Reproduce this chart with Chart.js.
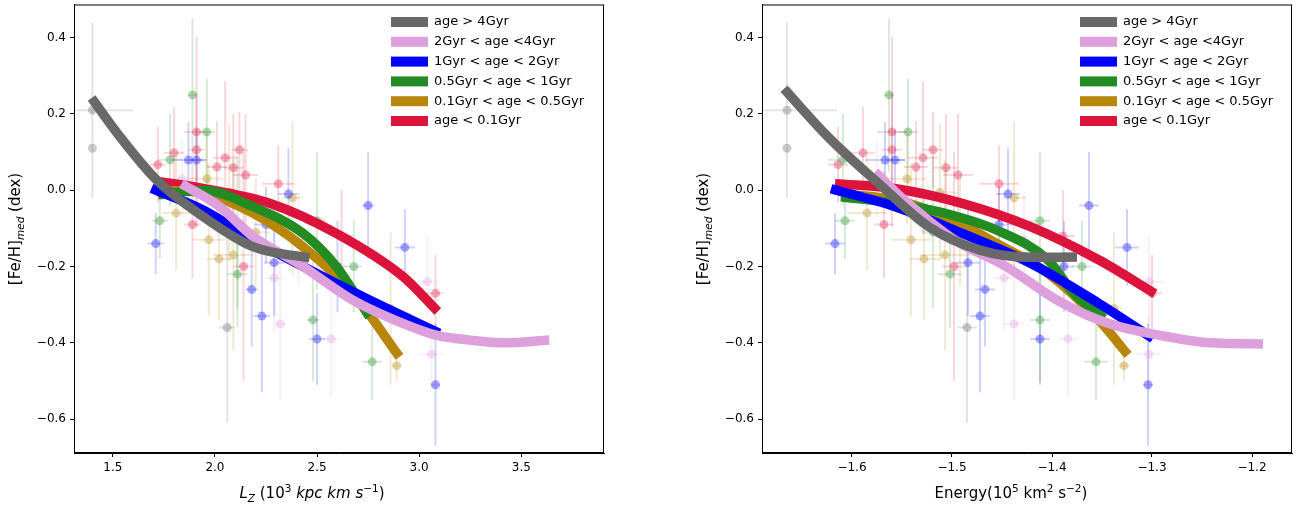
<!DOCTYPE html>
<html><head><meta charset="utf-8">
<script src="https://cdn.jsdelivr.net/npm/chart.js@4"></script>
<style>
html,body{margin:0;padding:0;background:#fff;}
#wrap{position:relative;width:1301px;height:508px;}
.pan{position:absolute;top:0;height:508px;}
</style></head>
<body>
<div id="wrap">
  <div class="pan" style="left:0;width:650px"><canvas id="cLz"></canvas></div>
  <div class="pan" style="left:650px;width:651px"><canvas id="cE"></canvas></div>
</div>
<script>
// ---- legend / groups
const groupLabels = ['age > 4Gyr','2Gyr < age <4Gyr','1Gyr < age < 2Gyr','0.5Gyr < age < 1Gyr','0.1Gyr < age < 0.5Gyr','age < 0.1Gyr'];
const groupColors = ['#696969','#dda0dd','#0000ff','#228b22','#b8860b','#dc143c'];

// ---- tick labels
const fehTicks = [-0.6,-0.4,-0.2,0.0,0.2,0.4];
const lzTicks = [1.5,2.0,2.5,3.0,3.5];
const eTicks = [-1.6,-1.5,-1.4,-1.3,-1.2];

// ---- fitted curves, left panel (Lz)
const lzCurveGrayX = [1.396,1.534,1.714,1.942,2.186,2.463];
const lzCurveGrayY = [0.242,0.141,0.027,-0.069,-0.148,-0.178];
const lzCurvePinkX = [1.836,2.023,2.186,2.431,2.675,2.92,3.083,3.246,3.417,3.637];
const lzCurvePinkY = [0.017,-0.043,-0.121,-0.2,-0.288,-0.349,-0.38,-0.393,-0.40,-0.393];
const lzCurveBlueX = [1.689,1.942,2.186,2.431,2.757,3.099];
const lzCurveBlueY = [0.005,-0.052,-0.13,-0.2,-0.288,-0.375];
const lzCurveGreenX = [1.722,1.94,2.186,2.431,2.594,2.757];
const lzCurveGreenY = [-0.012,0.0,-0.043,-0.113,-0.2,-0.332];
const lzCurveGoldX = [1.746,1.942,2.186,2.431,2.675,2.904];
const lzCurveGoldY = [0.0,-0.008,-0.06,-0.148,-0.27,-0.437];
const lzCurveRedX = [1.722,1.942,2.268,2.594,2.92,3.091];
const lzCurveRedY = [0.023,0.005,-0.034,-0.113,-0.226,-0.318];

// ---- fitted curves, right panel (Energy)
const eCurveGrayX = [-1.668,-1.624,-1.573,-1.523,-1.472,-1.421,-1.375];
const eCurveGrayY = [0.266,0.14,0.017,-0.096,-0.157,-0.176,-0.175];
const eCurvePinkX = [-1.577,-1.5475,-1.497,-1.446,-1.395,-1.344,-1.293,-1.242,-1.189];
const eCurvePinkY = [0.048,-0.026,-0.131,-0.20,-0.288,-0.349,-0.38,-0.40,-0.403];
const eCurveBlueX = [-1.621,-1.556,-1.489,-1.421,-1.353,-1.299];
const eCurveBlueY = [0.004,-0.044,-0.114,-0.192,-0.297,-0.389];
const eCurveGreenX = [-1.611,-1.556,-1.506,-1.455,-1.404,-1.378,-1.348];
const eCurveGreenY = [-0.017,-0.035,-0.061,-0.105,-0.183,-0.271,-0.336];
const eCurveGoldX = [-1.611,-1.556,-1.506,-1.455,-1.404,-1.353,-1.324];
const eCurveGoldY = [-0.009,-0.026,-0.07,-0.14,-0.218,-0.341,-0.432];
const eCurveRedX = [-1.617,-1.556,-1.489,-1.421,-1.353,-1.297];
const eCurveRedY = [0.017,0.004,-0.035,-0.096,-0.183,-0.271];

// ---- star medians: [Fe/H], Lz, Energy and errors
const fehGray = [0.21,0.11,-0.36];
const lzGray = [1.40,1.40,2.06];
const eGray = [-1.665,-1.665,-1.485];
const yerrGray = [0.23,0.0,0.25];
const xerrLzGray = [0.2,0.0,0.04];
const xerrEGray = [0.05,0.0,0.01];

const fehPink = [0.03,-0.24,-0.43,-0.39,-0.35,-0.13,-0.23];
const lzPink = [1.84,3.04,3.06,2.57,2.32,2.41,2.29];
const ePink = [-1.575,-1.303,-1.303,-1.384,-1.438,-1.428,-1.448];
const yerrPink = [0.1,0.12,0.1,0.15,0.2,0.12,0.14];
const xerrLzPink = [0.05,0.05,0.06,0.04,0.03,0.05,0.04];
const xerrEPink = [0.01,0.015,0.012,0.01,0.01,0.012,0.01];

const fehBlue = [0.079,0.079,-0.14,-0.01,-0.04,-0.15,-0.20,-0.26,-0.33,-0.39,-0.51,-0.19,-0.09];
const lzBlue = [1.87,1.91,1.71,2.36,2.75,2.93,2.60,2.18,2.23,2.50,3.08,2.29,2.25];
const eBlue = [-1.567,-1.557,-1.617,-1.444,-1.363,-1.325,-1.388,-1.467,-1.472,-1.412,-1.304,-1.484,-1.453];
const yerrBlue = [0.1,0.08,0.08,0.12,0.14,0.1,0.12,0.15,0.2,0.12,0.16,0.14,0.1];
const xerrLzBlue = [0.08,0.05,0.04,0.05,0.03,0.05,0.04,0.03,0.04,0.04,0.02,0.05,0.06];
const xerrEBlue = [0.02,0.01,0.01,0.012,0.01,0.012,0.01,0.01,0.01,0.01,0.005,0.012,0.015];

const fehGreen = [0.25,0.153,-0.08,-0.08,-0.2,-0.34,-0.45,-0.22,-0.11,0.08];
const lzGreen = [1.89,1.96,1.73,2.50,2.68,2.48,2.77,2.11,2.11,1.78];
const eGreen = [-1.563,-1.544,-1.607,-1.412,-1.37,-1.412,-1.356,-1.502,-1.519,-1.609];
const yerrGreen = [0.2,0.14,0.1,0.18,0.12,0.16,0.1,0.14,0.2,0.12];
const xerrLzGreen = [0.02,0.04,0.04,0.04,0.04,0.03,0.05,0.05,0.04,0.06];
const xerrEGreen = [0.005,0.01,0.01,0.01,0.01,0.01,0.012,0.012,0.01,0.015];

const fehGold = [0.03,-0.005,-0.02,-0.06,-0.13,-0.18,-0.17,-0.31,-0.46,-0.11];
const lzGold = [1.96,2.07,2.38,1.81,1.97,2.02,2.09,2.86,2.89,2.20];
const eGold = [-1.545,-1.512,-1.438,-1.585,-1.541,-1.528,-1.507,-1.338,-1.328,-1.492];
const yerrGold = [0.12,0.18,0.2,0.15,0.2,0.16,0.25,0.2,0.04,0.14];
const xerrLzGold = [0.08,0.06,0.05,0.07,0.08,0.06,0.1,0.03,0.02,0.07];
const xerrEGold = [0.02,0.015,0.012,0.02,0.02,0.015,0.025,0.008,0.005,0.018];

const fehRed = [0.067,0.098,0.153,0.106,0.061,0.085,0.106,0.059,0.04,0.017,-0.12,-0.27,-0.09,-0.2];
const lzRed = [1.72,1.80,1.91,1.91,2.01,2.05,2.12,2.09,2.15,2.31,2.62,3.08,1.89,2.14];
const eRed = [-1.614,-1.589,-1.56,-1.56,-1.536,-1.529,-1.519,-1.506,-1.494,-1.453,-1.389,-1.30,-1.568,-1.498];
const yerrRed = [0.1,0.12,0.25,0.15,0.12,0.2,0.1,0.14,0.16,0.1,0.12,0.1,0.14,0.3];
const xerrLzRed = [0.04,0.05,0.06,0.04,0.05,0.06,0.04,0.05,0.06,0.08,0.05,0.04,0.04,0.05];
const xerrERed = [0.01,0.012,0.015,0.01,0.012,0.015,0.01,0.012,0.015,0.02,0.012,0.01,0.01,0.012];

const lzCurves = [[lzCurveGrayX,lzCurveGrayY],[lzCurvePinkX,lzCurvePinkY],[lzCurveBlueX,lzCurveBlueY],[lzCurveGreenX,lzCurveGreenY],[lzCurveGoldX,lzCurveGoldY],[lzCurveRedX,lzCurveRedY]];
const eCurves = [[eCurveGrayX,eCurveGrayY],[eCurvePinkX,eCurvePinkY],[eCurveBlueX,eCurveBlueY],[eCurveGreenX,eCurveGreenY],[eCurveGoldX,eCurveGoldY],[eCurveRedX,eCurveRedY]];
const stars = [
  [fehGray,lzGray,eGray,yerrGray,xerrLzGray,xerrEGray],
  [fehPink,lzPink,ePink,yerrPink,xerrLzPink,xerrEPink],
  [fehBlue,lzBlue,eBlue,yerrBlue,xerrLzBlue,xerrEBlue],
  [fehGreen,lzGreen,eGreen,yerrGreen,xerrLzGreen,xerrEGreen],
  [fehGold,lzGold,eGold,yerrGold,xerrLzGold,xerrEGold],
  [fehRed,lzRed,eRed,yerrRed,xerrLzRed,xerrERed]
];

const FONT = "'DejaVu Sans', sans-serif";
function rgba(hex,a){ const n=parseInt(hex.slice(1),16); return `rgba(${n>>16},${(n>>8)&255},${n&255},${a})`; }
const fmt = v => (v<0?'\u2212':'')+Math.abs(v).toFixed(1);

// rich text: segments {t, i:italic, sup, sub}
function drawRich(ctx, segs, cx, cy, size){
  const parts = segs.map(s=>{
    const fs = (s.sup||s.sub) ? size*0.7 : size;
    ctx.font = `${s.i?'italic ':''}${fs}px ${FONT}`;
    return {s, fs, w: ctx.measureText(s.t).width};
  });
  let x = cx - parts.reduce((a,p)=>a+p.w,0)/2;
  ctx.textBaseline='alphabetic'; ctx.textAlign='left'; ctx.fillStyle='#000';
  parts.forEach(p=>{
    ctx.font = `${p.s.i?'italic ':''}${p.fs}px ${FONT}`;
    const dy = p.s.sup ? -size*0.4 : (p.s.sub ? size*0.25 : 0);
    ctx.fillText(p.s.t, x, cy+dy);
    x += p.w;
  });
}

const decoPlugin = {
  id:'deco',
  beforeDatasetsDraw(chart){
    const {ctx, scales:{x,y}} = chart;
    ctx.save();
    ctx.beginPath(); ctx.rect(chart.chartArea.left,chart.chartArea.top,chart.chartArea.width,chart.chartArea.height); ctx.clip();
    ctx.lineWidth = 2;
    chart.data.datasets.forEach(ds=>{
      if(!ds.errX) return;
      ctx.strokeStyle = rgba(ds.baseColor,0.18);
      ds.data.forEach((p,i)=>{
        const px=x.getPixelForValue(p.x), py=y.getPixelForValue(p.y);
        const ey=ds.errY[i], ex=ds.errX[i];
        ctx.beginPath();
        ctx.moveTo(px,y.getPixelForValue(p.y+ey)); ctx.lineTo(px,y.getPixelForValue(p.y-ey));
        ctx.moveTo(x.getPixelForValue(p.x-ex),py); ctx.lineTo(x.getPixelForValue(p.x+ex),py);
        ctx.stroke();
      });
    });
    ctx.restore();
  },
  afterDraw(chart){
    const {ctx, chartArea:a} = chart;
    const o = chart.options.plugins.deco;
    ctx.save();
    ctx.strokeStyle='#000'; ctx.lineWidth=1;
    ctx.strokeRect(a.left+0.5,a.top+0.5,a.width-1,a.height-1);
    // legend
    groupLabels.forEach((lab,i)=>{
      const yy = 22 + i*19.8;
      ctx.fillStyle = groupColors[i];
      ctx.fillRect(o.legX, yy-5, 37, 10);
      ctx.fillStyle='#000'; ctx.font=`13px ${FONT}`; ctx.textBaseline='middle'; ctx.textAlign='left';
      ctx.fillText(lab, o.legX+43, yy);
    });
    // x title
    drawRich(ctx, o.xTitle, o.xTitleX, 498, 15);
    // y title
    ctx.translate(o.yTitleX, 229); ctx.rotate(-Math.PI/2);
    drawRich(ctx, [{t:'[Fe/H]'},{t:'med',i:true,sub:true},{t:' (dex)'}], 0, 0, 15);
    ctx.restore();
  }
};

function makeChart(id, curves, xIdx, xerrIdx, xmin, xmax, xticks, yAxisW, padRight, o){
  const datasets = [];
  stars.forEach((g,k)=>{
    datasets.push({
      type:'scatter', baseColor:groupColors[k],
      data: g[0].map((f,i)=>({x:g[xIdx][i], y:f})),
      errY: g[3], errX: g[xerrIdx],
      pointRadius:4.5, pointHoverRadius:4.5, borderWidth:0,
      backgroundColor: rgba(groupColors[k],0.35), order:10
    });
  });
  // draw order: red first ... gray on top
  const drawOrder = [5,4,3,2,1,0];
  drawOrder.forEach((k,n)=>{
    const c = curves[k];
    datasets.push({
      type:'line', data: c[0].map((v,i)=>({x:v, y:c[1][i]})),
      borderColor: groupColors[k], borderWidth:9.5, pointRadius:0, tension:0.4,
      cubicInterpolationMode:'monotone', fill:false, order: 6-n
    });
  });
  return new Chart(document.getElementById(id),{
    data:{datasets},
    options:{
      responsive:true, maintainAspectRatio:false, animation:false,
      layout:{padding:{top:4,right:padRight,left:0,bottom:0}},
      plugins:{legend:{display:false}, tooltip:{enabled:false}, deco:o},
      scales:{
        x:{type:'linear', min:xmin, max:xmax,
          afterBuildTicks: s=>{ s.ticks = xticks.map(v=>({value:v})); },
          afterFit: s=>{ s.height = 55; s.paddingLeft = 0; s.paddingRight = 0; },
          ticks:{callback:fmt, color:'#000', font:{family:FONT,size:12}, padding:4, maxRotation:0},
          grid:{drawOnChartArea:false, tickLength:4, color:'#000'}, border:{color:'#000'}},
        y:{type:'linear', min:-0.689, max:0.487,
          afterBuildTicks: s=>{ s.ticks = fehTicks.map(v=>({value:v})); },
          afterFit: s=>{ s.width = yAxisW; s.paddingTop = 0; s.paddingBottom = 0; },
          ticks:{callback:fmt, color:'#000', font:{family:FONT,size:12}, padding:4},
          grid:{drawOnChartArea:false, tickLength:4, color:'#000'}, border:{color:'#000'}}
      }
    },
    plugins:[decoPlugin]
  });
}

makeChart('cLz', lzCurves, 1, 4, 1.31, 3.905, lzTicks, 74, 46, {
  legX:391, xTitleX:312, yTitleX:20,
  xTitle:[{t:'L',i:true},{t:'Z',i:true,sub:true},{t:' (10'},{t:'3',sup:true},{t:' kpc km s',i:true},{t:'\u22121',sup:true},{t:')'}]
});
makeChart('cE', eCurves, 2, 5, -1.69, -1.16, eTicks, 112, 9, {
  legX:430, xTitleX:361, yTitleX:58,
  xTitle:[{t:'Energy(10'},{t:'5',sup:true},{t:' km'},{t:'2',sup:true},{t:' s'},{t:'\u22122',sup:true},{t:')'}]
});
</script>
</body></html>
